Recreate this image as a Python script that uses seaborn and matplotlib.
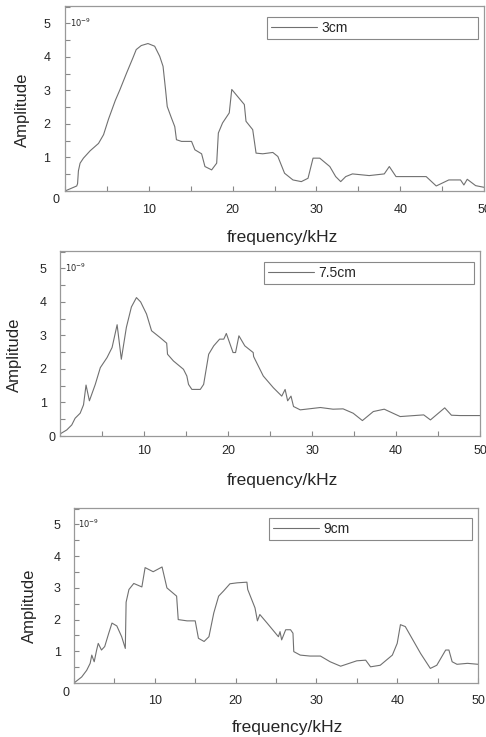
import numpy as np
import pandas as pd
import seaborn as sns
import matplotlib.pyplot as plt
from matplotlib.ticker import MultipleLocator

# amplitude spectra (x 1e-9)
f_3cm = [0, 1.4, 1.5, 1.6, 1.8, 2.2, 3.0, 4.0, 4.6, 5.2, 6.0, 6.55, 7.35, 8.1, 8.5, 9.1, 9.9,
         10.7, 11.3, 11.7, 12.0, 12.2, 12.7, 13.1, 13.3, 13.9, 15.1, 15.5, 16.3, 16.7, 17.5,
         18.1, 18.3, 18.8, 19.6, 19.9, 20.4, 21.4, 21.6, 22.4, 22.8, 23.6, 24.8, 25.4, 26.2,
         27.2, 28.2, 29.0, 29.6, 30.4, 31.6, 32.3, 32.9, 33.5, 34.3, 36.3, 38.1, 38.7, 39.5,
         43.1, 44.3, 45.8, 47.2, 47.6, 48.0, 49.0, 50.0]
a_3cm = [0.0, 0.15, 0.22, 0.6, 0.83, 0.98, 1.2, 1.42, 1.68, 2.15, 2.7, 3.02, 3.52, 3.97, 4.22,
         4.34, 4.40, 4.32, 4.02, 3.72, 3.02, 2.52, 2.18, 1.92, 1.53, 1.48, 1.48, 1.23, 1.11,
         0.73, 0.63, 0.83, 1.73, 2.03, 2.33, 3.03, 2.88, 2.58, 2.08, 1.83, 1.13, 1.11, 1.15,
         1.03, 0.53, 0.33, 0.28, 0.38, 0.98, 0.98, 0.73, 0.43, 0.28, 0.43, 0.51, 0.46, 0.51,
         0.73, 0.43, 0.43, 0.15, 0.33, 0.33, 0.18, 0.35, 0.16, 0.11]

f_75cm = [0, 0.8, 1.4, 1.8, 2.4, 2.8, 3.1, 3.5, 4.2, 4.8, 5.6, 6.2, 6.8, 7.3, 7.9, 8.5, 9.1,
          9.6, 10.3, 10.9, 11.9, 12.7, 12.8, 13.5, 14.7, 15.1, 15.3, 15.7, 16.7, 17.1, 17.7,
          18.3, 19.0, 19.5, 19.8, 20.6, 20.9, 21.3, 22.0, 23.0, 23.05, 24.2, 25.4, 26.4, 26.8,
          27.1, 27.5, 27.8, 28.6, 31.0, 32.5, 33.7, 34.9, 36.0, 37.3, 38.6, 40.5, 43.3, 44.1,
          45.8, 46.6, 47.6, 50.0]
a_75cm = [0.06, 0.18, 0.33, 0.53, 0.68, 0.93, 1.52, 1.05, 1.54, 2.04, 2.34, 2.64, 3.32, 2.29,
          3.24, 3.85, 4.13, 4.0, 3.64, 3.14, 2.94, 2.77, 2.44, 2.24, 1.99, 1.79, 1.54, 1.39,
          1.39, 1.54, 2.44, 2.69, 2.89, 2.89, 3.06, 2.49, 2.49, 2.99, 2.69, 2.49, 2.37, 1.79,
          1.44, 1.19, 1.39, 1.05, 1.19, 0.88, 0.78, 0.85, 0.80, 0.81, 0.68, 0.46, 0.73, 0.80,
          0.58, 0.63, 0.48, 0.84, 0.62, 0.61, 0.61]

f_9cm = [0, 0.95, 1.57, 2.0, 2.2, 2.5, 2.8, 3.0, 3.4, 3.8, 4.3, 4.7, 5.3, 5.9, 6.35, 6.45, 6.8,
         7.4, 8.4, 8.8, 9.8, 10.9, 11.5, 12.7, 12.9, 14.0, 15.0, 15.4, 16.1, 16.7, 17.3, 17.9,
         18.5, 19.3, 20.2, 21.4, 21.5, 22.4, 22.7, 23.0, 23.9, 25.3, 25.5, 25.7, 26.2, 26.8,
         27.1, 27.2, 28.0, 29.2, 30.5, 31.7, 33.0, 35.0, 36.1, 36.7, 37.9, 39.4, 40.0, 40.4,
         41.0, 42.9, 44.1, 44.9, 46.0, 46.4, 46.8, 47.4, 48.7, 50.0]
a_9cm = [0, 0.19, 0.40, 0.62, 0.88, 0.67, 1.04, 1.25, 1.04, 1.15, 1.57, 1.89, 1.80, 1.46, 1.09,
         2.55, 2.95, 3.14, 3.03, 3.64, 3.51, 3.66, 3.0, 2.74, 2.0, 1.96, 1.96, 1.41, 1.31, 1.46,
         2.21, 2.74, 2.90, 3.13, 3.16, 3.18, 2.95, 2.37, 1.96, 2.16, 1.89, 1.46, 1.62, 1.36,
         1.68, 1.68, 1.57, 0.99, 0.88, 0.85, 0.85, 0.67, 0.53, 0.70, 0.72, 0.51, 0.56, 0.88,
         1.25, 1.84, 1.78, 0.93, 0.46, 0.56, 1.04, 1.04, 0.67, 0.59, 0.62, 0.59]

x_ticks = [10, 20, 30, 40, 50]
y_ticks = [1, 2, 3, 4, 5]

sns.set_style("ticks")
plt.rcParams['font.family'] = ['Liberation Sans', 'DejaVu Sans']

fig = plt.figure(figsize=(4.86, 7.37), dpi=100)

def draw_panel(rect, freq, amp, name, leg_box, ylab_x, xlab_xy, zero_xy, xpad, ypad):
    ax = fig.add_axes(rect)
    df = pd.DataFrame({'f': freq, 'a': amp})
    sns.lineplot(data=df, x='f', y='a', ax=ax, color='#707070', linewidth=0.8, label=name)
    ax.set_xlim(0, 50)
    ax.set_ylim(0, 5.52)
    ax.set_xticks(x_ticks)
    ax.set_yticks(y_ticks)
    ax.xaxis.set_minor_locator(MultipleLocator(5))
    ax.yaxis.set_minor_locator(MultipleLocator(0.5))
    ax.tick_params(which='both', direction='in', length=3.5, width=0.8, color='#888888')
    ax.tick_params(axis='x', labelsize=9, pad=xpad)
    ax.tick_params(axis='y', labelsize=9, pad=ypad)
    for s in ax.spines.values():
        s.set_color('#999999')
        s.set_linewidth(0.9)
    ax.set_xlabel('frequency/kHz', fontsize=12.5)
    ax.set_ylabel('Amplitude', fontsize=12)
    ax.xaxis.set_label_coords(*xlab_xy)
    ax.yaxis.set_label_coords(ylab_x, 0.44)
    ax.text(zero_xy[0], zero_xy[1], '0', transform=ax.transAxes, fontsize=9,
            ha='center', va='center')
    ax.text(0.55, 5.02, r'$10^{-9}$', fontsize=6, ha='left', va='center')
    leg = ax.legend(loc='upper left', bbox_to_anchor=leg_box, mode='expand',
                    fancybox=False, borderaxespad=0, borderpad=0.3, handlelength=3.3,
                    handletextpad=0.3, fontsize=10, edgecolor='#888888', framealpha=1)
    leg.get_frame().set_linewidth(0.8)
    return ax

draw_panel([65/486, (737-191)/737, 419/486, 185/737], f_3cm, a_3cm, '3cm',
           (0.482, 0.82, 0.504, 0.12), -0.083, (0.518, -0.21), (-0.021, -0.05), 9.5, 10.5)
draw_panel([60/486, (737-436)/737, 420/486, 185/737], f_75cm, a_75cm, '7.5cm',
           (0.486, 0.82, 0.5, 0.12), -0.091, (0.529, -0.20), (-0.02, -0.01), 6.5, 9.5)
draw_panel([74/486, (737-683)/737, 404/486, 175/737], f_9cm, a_9cm, '9cm',
           (0.483, 0.828, 0.502, 0.115), -0.092, (0.528, -0.21), (-0.021, -0.055), 9.0, 9.5)

fig.savefig('out.png', dpi=100)
